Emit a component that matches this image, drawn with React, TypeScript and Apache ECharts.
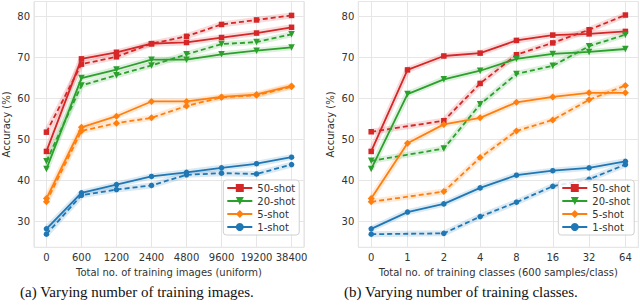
import React, { useEffect, useRef } from "react";
import * as echarts from "echarts";

const leftLabels = ["0", "600", "1200", "2400", "4800", "9600", "19200", "38400"];
const rightLabels = ["0", "1", "2", "4", "8", "16", "32", "64"];
const shots = ["50-shot", "20-shot", "5-shot", "1-shot"];

// Left panel: varying number of training images (solid / dashed)
const left50 = [47.0, 69.6, 71.2, 73.3, 73.6, 74.8, 75.9, 77.3];
const left50d = [51.7, 68.3, 70.1, 73.3, 75.1, 78.0, 79.1, 80.2];
const left20 = [42.7, 64.9, 67.0, 69.4, 69.4, 70.7, 71.6, 72.4];
const left20d = [44.6, 63.1, 65.6, 68.0, 70.7, 73.2, 73.7, 75.6];
const left5 = [35.5, 52.9, 55.6, 59.2, 59.2, 60.3, 60.9, 63.0];
const left5d = [34.7, 52.0, 53.9, 55.2, 58.1, 60.2, 60.7, 62.8];
const left1 = [28.1, 36.9, 38.9, 40.9, 41.9, 43.0, 44.0, 45.6];
const left1d = [26.8, 36.3, 37.7, 38.7, 41.3, 41.7, 41.5, 43.8];

// Right panel: varying number of training classes (dashed has no point at 1)
const right50 = [47.0, 66.9, 70.3, 71.0, 74.1, 75.4, 75.7, 76.3];
const right50d = [51.8, null, 54.5, 63.6, 70.6, 73.5, 76.7, 80.3];
const right20 = [42.7, 61.0, 64.6, 66.7, 69.6, 70.8, 71.3, 72.0];
const right20d = [44.7, null, 47.7, 58.5, 65.9, 67.9, 72.7, 75.5];
const right5 = [35.5, 49.0, 53.6, 55.2, 59.0, 60.3, 61.3, 61.3];
const right5d = [34.7, null, 37.2, 45.5, 52.0, 54.7, 59.6, 63.1];
const right1 = [28.1, 32.2, 34.2, 38.1, 41.2, 42.3, 43.0, 44.6];
const right1d = [26.8, null, 27.0, 31.1, 34.6, 38.5, 40.2, 43.8];

const colors = ["#d62728", "#2ca02c", "#ff7f0e", "#1f77b4"];
const symbols = ["rect", "triangle", "diamond", "circle"];
const symRot = [0, 180, 0, 0];
const symSizes = [5.5, 6.5, 7, 5.5];

const FONT = "DejaVu Sans";
const TXT = "#333333";

function toPairs(vals: (number | null)[]) {
  const out: number[][] = [];
  vals.forEach((v, i) => {
    if (v !== null) out.push([i, v]);
  });
  return out;
}

function buildSeries(panel: number, idx: number, vals: (number | null)[], dashed: boolean) {
  const data = toPairs(vals);
  const c = colors[idx];
  const base = { type: "line", xAxisIndex: panel, yAxisIndex: panel, data };
  return [
    {
      ...base,
      name: shots[idx] + (dashed ? " d" : "") + " band",
      symbol: "none",
      silent: true,
      z: 1,
      lineStyle: { width: 6, color: c, opacity: 0.16 },
    },
    {
      ...base,
      name: dashed ? shots[idx] + " (d)" : shots[idx],
      symbol: symbols[idx],
      symbolRotate: symRot[idx],
      symbolSize: symSizes[idx],
      z: 3,
      itemStyle: { color: c },
      lineStyle: { width: 1.8, color: c, type: dashed ? [5, 3] : "solid" },
    },
  ];
}

function xAxis(panel: number, labels: string[], name: string) {
  return {
    type: "value",
    gridIndex: panel,
    min: -0.355,
    max: 7.355,
    splitNumber: 8,
    name,
    nameLocation: "middle",
    nameGap: 15,
    nameTextStyle: { fontFamily: FONT, fontSize: 10, color: TXT },
    axisLine: { show: false },
    axisTick: { show: false },
    splitLine: { show: true, lineStyle: { color: "#e6e6e6", width: 1 } },
    axisLabel: {
      margin: 5,
      fontFamily: FONT,
      fontSize: 10,
      color: TXT,
      showMinLabel: false,
      showMaxLabel: false,
      formatter: (v: number) => {
        const r = Math.round(v);
        return Math.abs(v - r) < 1e-6 && r >= 0 && r < labels.length ? labels[r] : "";
      },
    },
  };
}

function yAxis(panel: number) {
  return {
    type: "value",
    gridIndex: panel,
    min: 23.6,
    max: 83.6,
    name: "Accuracy (%)",
    nameLocation: "middle",
    nameGap: 23,
    nameTextStyle: { fontFamily: FONT, fontSize: 10, color: TXT },
    axisLine: { show: false },
    axisTick: { show: false },
    splitLine: { show: true, lineStyle: { color: "#e6e6e6", width: 1 } },
    axisLabel: {
      margin: 4,
      fontFamily: FONT,
      fontSize: 10,
      color: TXT,
      showMinLabel: false,
      showMaxLabel: false,
      formatter: (v: number) => (Math.abs(v % 10) < 1e-6 ? String(v) : ""),
    },
  };
}

function legend(left: number) {
  return {
    data: shots,
    orient: "vertical",
    left,
    top: 180,
    padding: [3, 4, 3, 3],
    itemGap: 3,
    itemWidth: 25,
    itemHeight: 10,
    backgroundColor: "rgba(255,255,255,0.85)",
    borderColor: "#d0d0d0",
    borderWidth: 1,
    borderRadius: 3,
    selectedMode: false,
    textStyle: { fontFamily: FONT, fontSize: 10, color: TXT },
  };
}

export default function App() {
  const ref = useRef<HTMLDivElement>(null);
  useEffect(() => {
    document.body.style.margin = "0";
    if (!ref.current) return;
    const chart = echarts.init(ref.current, null, { renderer: "svg" });
    const leftSets = [left50, left20, left5, left1];
    const leftSetsD = [left50d, left20d, left5d, left1d];
    const rightSets = [right50, right20, right5, right1];
    const rightSetsD = [right50d, right20d, right5d, right1d];
    const series: any[] = [];
    for (let i = 0; i < 4; i++) {
      series.push(...buildSeries(0, i, leftSets[i], false));
      series.push(...buildSeries(0, i, leftSetsD[i], true));
      series.push(...buildSeries(1, i, rightSets[i], false));
      series.push(...buildSeries(1, i, rightSetsD[i], true));
    }
    chart.setOption({
      animation: false,
      backgroundColor: "#ffffff",
      grid: [
        { left: 28.3, top: 1.5, width: 275.7, height: 245.8, show: true, borderColor: "#e0e0e0", borderWidth: 1 },
        { left: 358.3, top: 1.5, width: 280, height: 245.8, show: true, borderColor: "#e0e0e0", borderWidth: 1 },
      ],
      xAxis: [
        xAxis(0, leftLabels, "Total no. of training images (uniform)"),
        xAxis(1, rightLabels, "Total no. of training classes (600 samples/class)"),
      ],
      yAxis: [yAxis(0), yAxis(1)],
      legend: [legend(223.3), legend(558.3)],
      series,
      graphic: [
        {
          type: "text",
          left: 141 - 121,
          top: 284,
          style: {
            text: "(a) Varying number of training images.",
            font: "15px 'Liberation Serif'",
            fill: "#111",
          },
        },
        {
          type: "text",
          left: 474 - 130,
          top: 284,
          style: {
            text: "(b) Varying number of training classes.",
            font: "15px 'Liberation Serif'",
            fill: "#111",
          },
        },
      ],
    });
    return () => chart.dispose();
  }, []);
  return <div ref={ref} style={{ width: 640, height: 306 }} />;
}
